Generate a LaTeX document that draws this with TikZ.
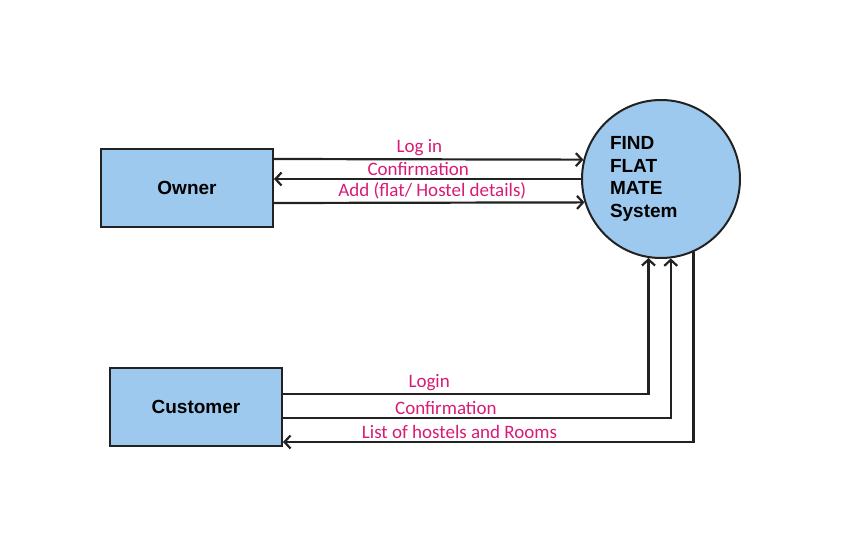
\documentclass[tikz,border=0pt]{standalone}
\usepackage{fontspec}
\setmainfont{Liberation Sans}
\newfontfamily\handfont{Carlito}
\usetikzlibrary{arrows.meta}
\definecolor{boxblue}{HTML}{9DC9EF}
\definecolor{edgegray}{HTML}{222222}
\definecolor{flowpink}{HTML}{D81B74}
\tikzset{
  entity/.style={draw=edgegray, line width=2pt, fill=boxblue, minimum width=172pt, minimum height=78pt, font=\fontsize{19}{22.5}\selectfont\bfseries},
  process/.style={circle, draw=edgegray, line width=2pt, fill=boxblue, minimum size=158pt, text width=102pt, align=left, font=\fontsize{19}{22.5}\selectfont\bfseries},
  flow/.style={draw=edgegray, line width=2.2pt, -{Straight Barb[length=6pt,width=13pt]}},
  flowlabel/.style={text=flowpink, font=\handfont\fontsize{19}{22}\selectfont, inner sep=2.5pt}
}
\begin{document}
\begin{tikzpicture}[x=1pt,y=-1pt]
\useasboundingbox (0,0) rectangle (841,553);
\node[entity] (owner) at (187,188) {Owner};
\node[entity] (cust) at (196,407) {Customer};
\node[process] (sys) at (661,179) {FIND\\FLAT\\MATE\\System};
% owner flows
\draw[flow] ([yshift=29pt]owner.east) -- (sys.166) node[flowlabel, pos=0.47, above] {Log in};
\draw[flow] (sys.west) -- (sys.west -| owner.east) node[flowlabel, pos=0.53, above] {Confirmation};
\draw[flow] ([yshift=-15pt]owner.east) -- (sys.197) node[flowlabel, pos=0.51, above] {Add (flat/ Hostel details)};
% customer flows
\draw[flow] ([yshift=13pt]cust.east) -| (sys.-99.5) node[flowlabel, pos=0.2, above] {Login};
\draw[flow] ([yshift=-11pt]cust.east) -| (sys.-83.5) node[flowlabel, pos=0.21, above] {Confirmation};
\draw[flow] (sys.-66) |- ([yshift=-35pt]cust.east) node[flowlabel, pos=0.785, above] {List of hostels and Rooms};
\end{tikzpicture}
\end{document}
